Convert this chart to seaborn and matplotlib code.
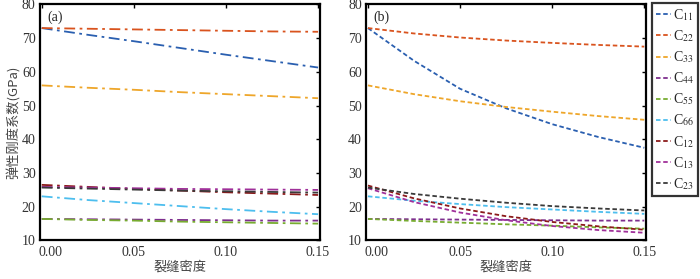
import matplotlib
matplotlib.use("Agg")
import matplotlib.pyplot as plt
import matplotlib.transforms as mtransforms
import seaborn as sns
import numpy as np

# crack density samples
crack = [0.0, 0.025, 0.05, 0.075, 0.10, 0.125, 0.15]
names = ["11", "22", "33", "44", "55", "66", "12", "13", "23"]
colors = ["#2a5fb0", "#d9531e", "#eea62a", "#7e2f8e", "#77ac30",
          "#4dbeee", "#8b1a1a", "#a0309a", "#3a3a3a"]

# panel (a)
a_c11 = [73.0, 71.0, 69.1, 67.1, 65.1, 63.2, 61.3]
a_c22 = [73.0, 72.8, 72.6, 72.4, 72.2, 72.0, 71.9]
a_c33 = [56.0, 55.3, 54.7, 54.0, 53.4, 52.8, 52.2]
a_c44 = [16.4, 16.3, 16.2, 16.1, 16.0, 15.9, 15.9]
a_c55 = [16.4, 16.1, 15.9, 15.6, 15.4, 15.2, 15.0]
a_c66 = [23.1, 22.0, 21.1, 20.2, 19.3, 18.5, 17.8]
a_c12 = [26.5, 25.9, 25.3, 24.8, 24.3, 23.9, 23.5]
a_c13 = [25.9, 25.7, 25.5, 25.3, 25.2, 25.1, 25.0]
a_c23 = [25.7, 25.4, 25.1, 24.8, 24.6, 24.4, 24.2]

# panel (b)
b_c11 = [73.0, 63.3, 55.0, 49.2, 44.5, 40.7, 37.5]
b_c22 = [73.0, 71.4, 70.2, 69.3, 68.6, 68.0, 67.5]
b_c33 = [56.0, 53.4, 51.3, 49.6, 48.2, 46.9, 45.8]
b_c44 = [16.4, 16.3, 16.2, 16.1, 16.0, 15.9, 15.9]
b_c55 = [16.4, 15.8, 15.3, 14.8, 14.4, 13.9, 13.5]
b_c66 = [23.1, 21.8, 20.8, 19.9, 19.2, 18.5, 17.9]
b_c12 = [26.3, 22.5, 19.5, 17.2, 15.5, 14.2, 13.2]
b_c13 = [25.5, 21.4, 18.3, 16.0, 14.3, 13.1, 12.3]
b_c23 = [25.7, 23.8, 22.4, 21.2, 20.2, 19.5, 18.9]

panel_a = [a_c11, a_c22, a_c33, a_c44, a_c55, a_c66, a_c12, a_c13, a_c23]
panel_b = [b_c11, b_c22, b_c33, b_c44, b_c55, b_c66, b_c12, b_c13, b_c23]

sns.set_theme(style="white")
plt.rcParams['font.family'] = ['Liberation Serif', 'Noto Sans CJK SC', 'DejaVu Sans']
plt.rcParams['mathtext.fontset'] = 'stix'

fig = plt.figure(figsize=(7, 2.79), dpi=100)
ax1 = fig.add_axes([0.057, 0.138, 0.400, 0.846])
ax2 = fig.add_axes([0.523, 0.138, 0.400, 0.846])

shift = mtransforms.ScaledTranslation(9 / 100, 0, fig.dpi_scale_trans)

for ax, data, tag in [(ax1, panel_a, "(a)"), (ax2, panel_b, "(b)")]:
    for n, vals, c in zip(names, data, colors):
        sns.lineplot(x=crack, y=vals, ax=ax, color=c, lw=1.3,
                     label="C$_{" + n + "}$")
    for ln in ax.get_lines():
        ln.set_linestyle((0, (6, 2.5, 1.5, 2.5)))
    ax.set_xlim(-0.001, 0.151)
    ax.set_ylim(10, 80)
    ax.set_xticks([0.0, 0.05, 0.10, 0.15])
    ax.set_xticklabels(["0.00", "0.05", "0.10", "0.15"])
    ax.set_yticks(range(10, 81, 10))
    ax.tick_params(direction="in", length=3, width=1, labelsize=10,
                   top=True, right=True, colors="black", labelcolor="#333333")
    ax.tick_params(axis="x", pad=4)
    ax.tick_params(axis="y", pad=3)
    first = ax.get_xticklabels()[0]
    first.set_transform(first.get_transform() + shift)
    for s in ax.spines.values():
        s.set_linewidth(1.6)
        s.set_color("black")
    ax.text(0.025, 0.975, tag, transform=ax.transAxes, ha="left", va="top",
            fontsize=10)
    ax.set_xlabel("裂缝密度", fontsize=9.5, family=['Noto Sans CJK SC'],
                  color="#444444", labelpad=1)
    ax.get_legend().remove()

ax1.set_ylabel("弹性刚度系数(GPa)", fontsize=9.5, family=['Noto Sans CJK SC'],
               color="#444444", labelpad=1)
ax2.set_ylabel("")

handles, labels = ax2.get_legend_handles_labels()
for h in handles:
    h.set_linestyle((0, (2.5, 1.5)))
leg = fig.legend(handles, labels, loc="upper right",
                 bbox_to_anchor=(0.997, 0.989), frameon=True, fancybox=False,
                 fontsize=10, handlelength=1.05, handletextpad=0.15,
                 labelspacing=0.38, borderpad=0.3, borderaxespad=0)
leg.get_frame().set_edgecolor("black")
leg.get_frame().set_linewidth(1.6)

fig.savefig("out.png", dpi=100)
